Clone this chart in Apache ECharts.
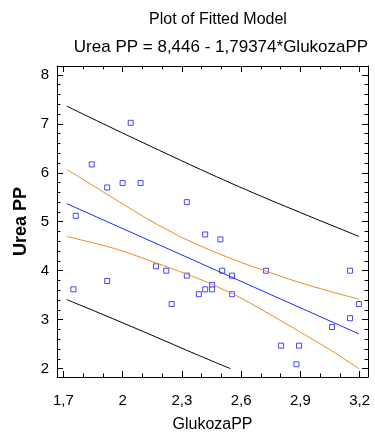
<!DOCTYPE html>
<html>
<head>
<meta charset="utf-8">
<script src="https://cdn.jsdelivr.net/npm/echarts@6/dist/echarts.min.js"></script>
<style>
html,body{margin:0;padding:0;background:#fff;}
#chart{width:375px;height:439px;}
</style>
</head>
<body>
<div id="chart"></div>
<script>
// ---- data ----
const pointsX = [2.041,1.844,1.922,2.000,2.091,2.325,1.763,2.418,2.495,2.169,2.221,2.325,1.922,1.751,2.418,2.386,2.248,2.453,2.453,2.504,2.554,2.554,2.726,3.151,3.196,3.151,3.060,2.802,2.893,2.880];
const pointsY = [7.02,6.17,5.70,5.79,5.79,5.40,5.12,4.74,4.64,4.09,4.00,3.90,3.79,3.62,3.62,3.52,3.32,3.71,3.62,4.00,3.90,3.52,4.00,4.00,3.32,3.03,2.85,2.47,2.47,2.09];

const fitX = [1.717, 3.196];
const fitY = [5.37, 2.71];

const predUpX = [1.717, 2.037, 2.442, 2.731, 3.196];
const predUpY = [7.36, 6.74, 5.98, 5.47, 4.70];
const predLoX = [1.717, 1.886, 2.138, 2.374, 2.546];
const predLoY = [3.41, 3.13, 2.70, 2.29, 2.00];

const confUpX = [1.717, 1.970, 2.138, 2.300, 2.450, 2.600, 2.726, 2.880, 3.048, 3.196];
const confUpY = [6.07, 5.44, 5.03, 4.68, 4.41, 4.17, 3.99, 3.78, 3.58, 3.42];
const confLoX = [1.717, 1.970, 2.169, 2.325, 2.442, 2.600, 2.796, 3.048, 3.196];
const confLoY = [4.70, 4.44, 4.16, 3.93, 3.74, 3.44, 2.99, 2.39, 2.00];

const xTickValues = [1.7, 2.0, 2.3, 2.6, 2.9, 3.2];
const xTickLabels = ['1,7', '2', '2,3', '2,6', '2,9', '3,2'];
const xMinorTicks = [1.7,1.8,1.9,2.0,2.1,2.2,2.3,2.4,2.5,2.6,2.7,2.8,2.9,3.0,3.1,3.2];
const yTickValues = [2, 3, 4, 5, 6, 7, 8];
const yTickLabels = ['2', '3', '4', '5', '6', '7', '8'];
const yMinorTicks = [2,2.2,2.4,2.6,2.8,3,3.2,3.4,3.6,3.8,4,4.2,4.4,4.6,4.8,5,5.2,5.4,5.6,5.8,6,6.2,6.4,6.6,6.8,7,7.2,7.4,7.6,7.8,8];

const titleText = 'Plot of Fitted Model';
const subtitleText = 'Urea PP = 8,446 - 1,79374*GlukozaPP';
const xName = 'GlukozaPP';
const yName = 'Urea PP';

// ---- chart ----
const FONT = "'Liberation Sans', Arial, sans-serif";
const X_MIN = 1.668, X_MAX = 3.242, Y_MIN = 1.83, Y_MAX = 8.18;

function zip(xs, ys) { return xs.map((x, i) => [x, ys[i]]); }
function labelFor(values, labels) {
  return function (v) {
    for (let i = 0; i < values.length; i++) {
      if (Math.abs(values[i] - v) < 1e-6) return labels[i];
    }
    return '';
  };
}

function axis(kind, position, major, ticks, labelConf, extra) {
  const isX = kind === 'x';
  const a = {
    type: 'value',
    min: isX ? X_MIN : Y_MIN,
    max: isX ? X_MAX : Y_MAX,
    position: position,
    splitLine: { show: false },
    axisLine: { show: major, onZero: false, lineStyle: { color: '#000', width: 1 } },
    axisTick: { show: true, inside: true, length: major ? 6 : 3.5, customValues: ticks, lineStyle: { color: '#000', width: 1 } },
    axisLabel: labelConf ? labelConf : { show: false }
  };
  return Object.assign(a, extra || {});
}

const chart = echarts.init(document.getElementById('chart'), null, { renderer: 'canvas' });

const lineBase = { type: 'line', showSymbol: false, smooth: 0.3, silent: true };

const option = {
  backgroundColor: '#fff',
  animation: false,
  title: [
    { text: titleText, left: 213, top: 7, textAlign: 'center',
      textStyle: { fontFamily: FONT, fontSize: 16, fontWeight: 'normal', color: '#000' } },
    { text: subtitleText, left: 216, top: 34, textAlign: 'center',
      textStyle: { fontFamily: FONT, fontSize: 17, fontWeight: 'normal', color: '#000' } }
  ],
  grid: { left: 57, right: 7, top: 66, bottom: 62, containLabel: false },
  xAxis: [
    axis('x', 'bottom', true, xTickValues, {
      show: true, customValues: xTickValues, formatter: labelFor(xTickValues, xTickLabels),
      color: '#000', fontFamily: FONT, fontSize: 15, margin: 16
    }, { name: xName, nameLocation: 'middle', nameGap: 40,
         nameTextStyle: { fontFamily: FONT, fontSize: 16, color: '#000' } }),
    axis('x', 'bottom', false, xMinorTicks, null),
    axis('x', 'top', true, xTickValues, null),
    axis('x', 'top', false, xMinorTicks, null)
  ],
  yAxis: [
    axis('y', 'left', true, yTickValues, {
      show: true, customValues: yTickValues, formatter: labelFor(yTickValues, yTickLabels),
      color: '#000', fontFamily: FONT, fontSize: 15, margin: 8
    }, { name: yName, nameLocation: 'middle', nameGap: 26,
         nameTextStyle: { fontFamily: FONT, fontSize: 18, fontWeight: 'bold', color: '#000' } }),
    axis('y', 'left', false, yMinorTicks, null),
    axis('y', 'right', true, yTickValues, null),
    axis('y', 'right', false, yMinorTicks, null)
  ],
  series: [
    Object.assign({}, lineBase, { data: zip(predUpX, predUpY), lineStyle: { color: '#000', width: 1 } }),
    Object.assign({}, lineBase, { data: zip(predLoX, predLoY), lineStyle: { color: '#000', width: 1 } }),
    Object.assign({}, lineBase, { data: zip(confUpX, confUpY), lineStyle: { color: '#ef8a1e', width: 1 } }),
    Object.assign({}, lineBase, { data: zip(confLoX, confLoY), lineStyle: { color: '#ef8a1e', width: 1 } }),
    Object.assign({}, lineBase, { data: zip(fitX, fitY), smooth: false, lineStyle: { color: '#1f2cff', width: 1 } }),
    { type: 'scatter', data: zip(pointsX, pointsY), symbol: 'rect', symbolSize: 5,
      itemStyle: { color: '#fff', borderColor: '#1a1aff', borderWidth: 1 }, silent: true }
  ]
};
chart.setOption(option);
</script>
</body>
</html>
